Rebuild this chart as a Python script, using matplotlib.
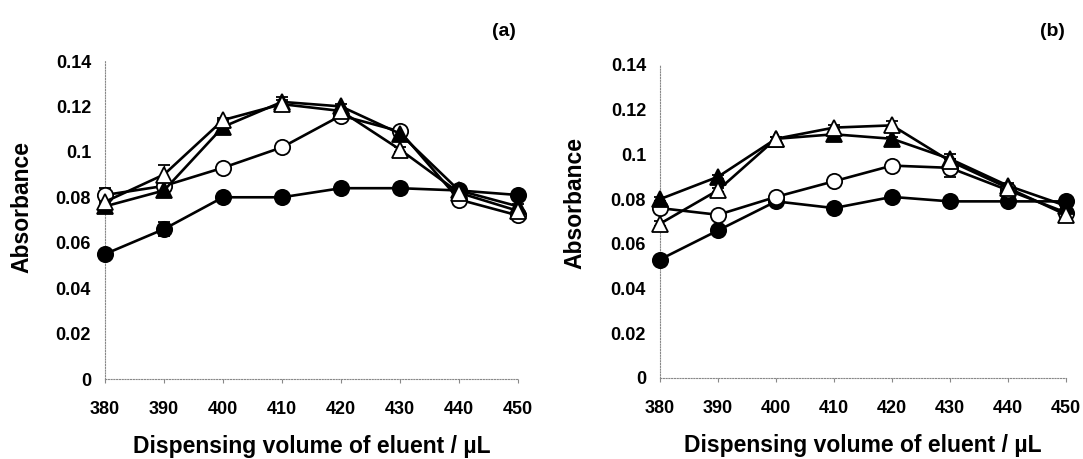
import matplotlib
matplotlib.use("Agg")
import matplotlib.pyplot as plt

plt.rcParams['font.family'] = ['Liberation Sans', 'DejaVu Sans']

volumes = [380, 390, 400, 410, 420, 430, 440, 450]
y_ticks = [0, 0.02, 0.04, 0.06, 0.08, 0.1, 0.12, 0.14]
y_tick_labels = ["0", "0.02", "0.04", "0.06", "0.08", "0.1", "0.12", "0.14"]

# Panel (a)
a_filled_circle = [0.055, 0.066, 0.080, 0.080, 0.084, 0.084, 0.083, 0.081]
a_open_circle = [0.081, 0.085, 0.093, 0.102, 0.116, 0.109, 0.079, 0.072]
a_filled_tri = [0.076, 0.083, 0.111, 0.122, 0.120, 0.108, 0.083, 0.076]
a_open_tri = [0.078, 0.090, 0.114, 0.121, 0.118, 0.101, 0.082, 0.074]
a_err_fc = [0.001, 0.003, 0.001, 0.001, 0.001, 0.001, 0.001, 0.001]
a_err_oc = [0.003, 0.001, 0.001, 0.002, 0.001, 0.001, 0.001, 0.001]
a_err_ft = [0.001, 0.001, 0.003, 0.002, 0.001, 0.001, 0.001, 0.001]
a_err_ot = [0.001, 0.004, 0.001, 0.002, 0.001, 0.001, 0.001, 0.001]

# Panel (b)
b_filled_circle = [0.053, 0.066, 0.079, 0.076, 0.081, 0.079, 0.079, 0.079]
b_open_circle = [0.076, 0.073, 0.081, 0.088, 0.095, 0.094, 0.084, 0.074]
b_filled_tri = [0.080, 0.090, 0.107, 0.109, 0.107, 0.098, 0.086, 0.077]
b_open_tri = [0.069, 0.084, 0.107, 0.112, 0.113, 0.097, 0.085, 0.073]
b_err_fc = [0.001, 0.001, 0.001, 0.001, 0.001, 0.001, 0.001, 0.001]
b_err_oc = [0.001, 0.001, 0.001, 0.001, 0.001, 0.004, 0.001, 0.002]
b_err_ft = [0.001, 0.001, 0.001, 0.001, 0.001, 0.002, 0.001, 0.001]
b_err_ot = [0.001, 0.001, 0.001, 0.001, 0.002, 0.001, 0.001, 0.001]

W, H = 1083, 459
fig = plt.figure(figsize=(W / 100, H / 100), dpi=100)

def draw(ax, series):
    for vals, errs, marker, face in series:
        ax.errorbar(volumes, vals, yerr=errs, color='black', marker=marker,
                    markersize=11, markerfacecolor=face, markeredgecolor='black',
                    markeredgewidth=1.3, linewidth=1.9, capsize=4, elinewidth=0.9,
                    capthick=0.9, clip_on=False, zorder=3)
    ax.set_xlim(380, 450)
    ax.set_ylim(0, 0.14)
    ax.set_xticks(volumes)
    ax.set_xticklabels([str(v) for v in volumes], fontsize=13, fontweight='bold')
    ax.set_yticks(y_ticks)
    ax.set_yticklabels(y_tick_labels, fontsize=13, fontweight='bold')
    ax.tick_params(axis='y', length=0, pad=10)
    ax.tick_params(axis='x', length=3, direction='out', color='#888888', width=0.8, pad=13)
    for s in ['top', 'right']:
        ax.spines[s].set_visible(False)
    for s in ['left', 'bottom']:
        ax.spines[s].set_linestyle((0, (1, 1.5)))
        ax.spines[s].set_color('#888888')
        ax.spines[s].set_linewidth(0.8)
    ax.set_ylabel('Absorbance', fontsize=16.5, fontweight='bold')
    ax.set_xlabel('Dispensing volume of eluent / µL', fontsize=16.5, fontweight='bold', labelpad=12)

ax1 = fig.add_axes([105 / W, 1 - 379 / H, (518 - 105) / W, (379 - 61) / H])
draw(ax1, [
    (a_filled_circle, a_err_fc, 'o', 'black'),
    (a_open_circle, a_err_oc, 'o', 'white'),
    (a_filled_tri, a_err_ft, '^', 'black'),
    (a_open_tri, a_err_ot, '^', 'white'),
])
ax1.yaxis.set_label_coords((33 - 105) / 413, 0.54)

ax2 = fig.add_axes([660 / W, 1 - 378 / H, (1066 - 660) / W, (378 - 65) / H])
draw(ax2, [
    (b_filled_circle, b_err_fc, 'o', 'black'),
    (b_open_circle, b_err_oc, 'o', 'white'),
    (b_filled_tri, b_err_ft, '^', 'black'),
    (b_open_tri, b_err_ot, '^', 'white'),
])
ax2.yaxis.set_label_coords((586 - 660) / 406, 0.56)

fig.text(504 / W, 1 - 32 / H, '(a)', fontsize=14, fontweight='bold', ha='center', va='center')
fig.text(1052 / W, 1 - 32 / H, '(b)', fontsize=14, fontweight='bold', ha='center', va='center')

fig.savefig('out.png', dpi=100)
